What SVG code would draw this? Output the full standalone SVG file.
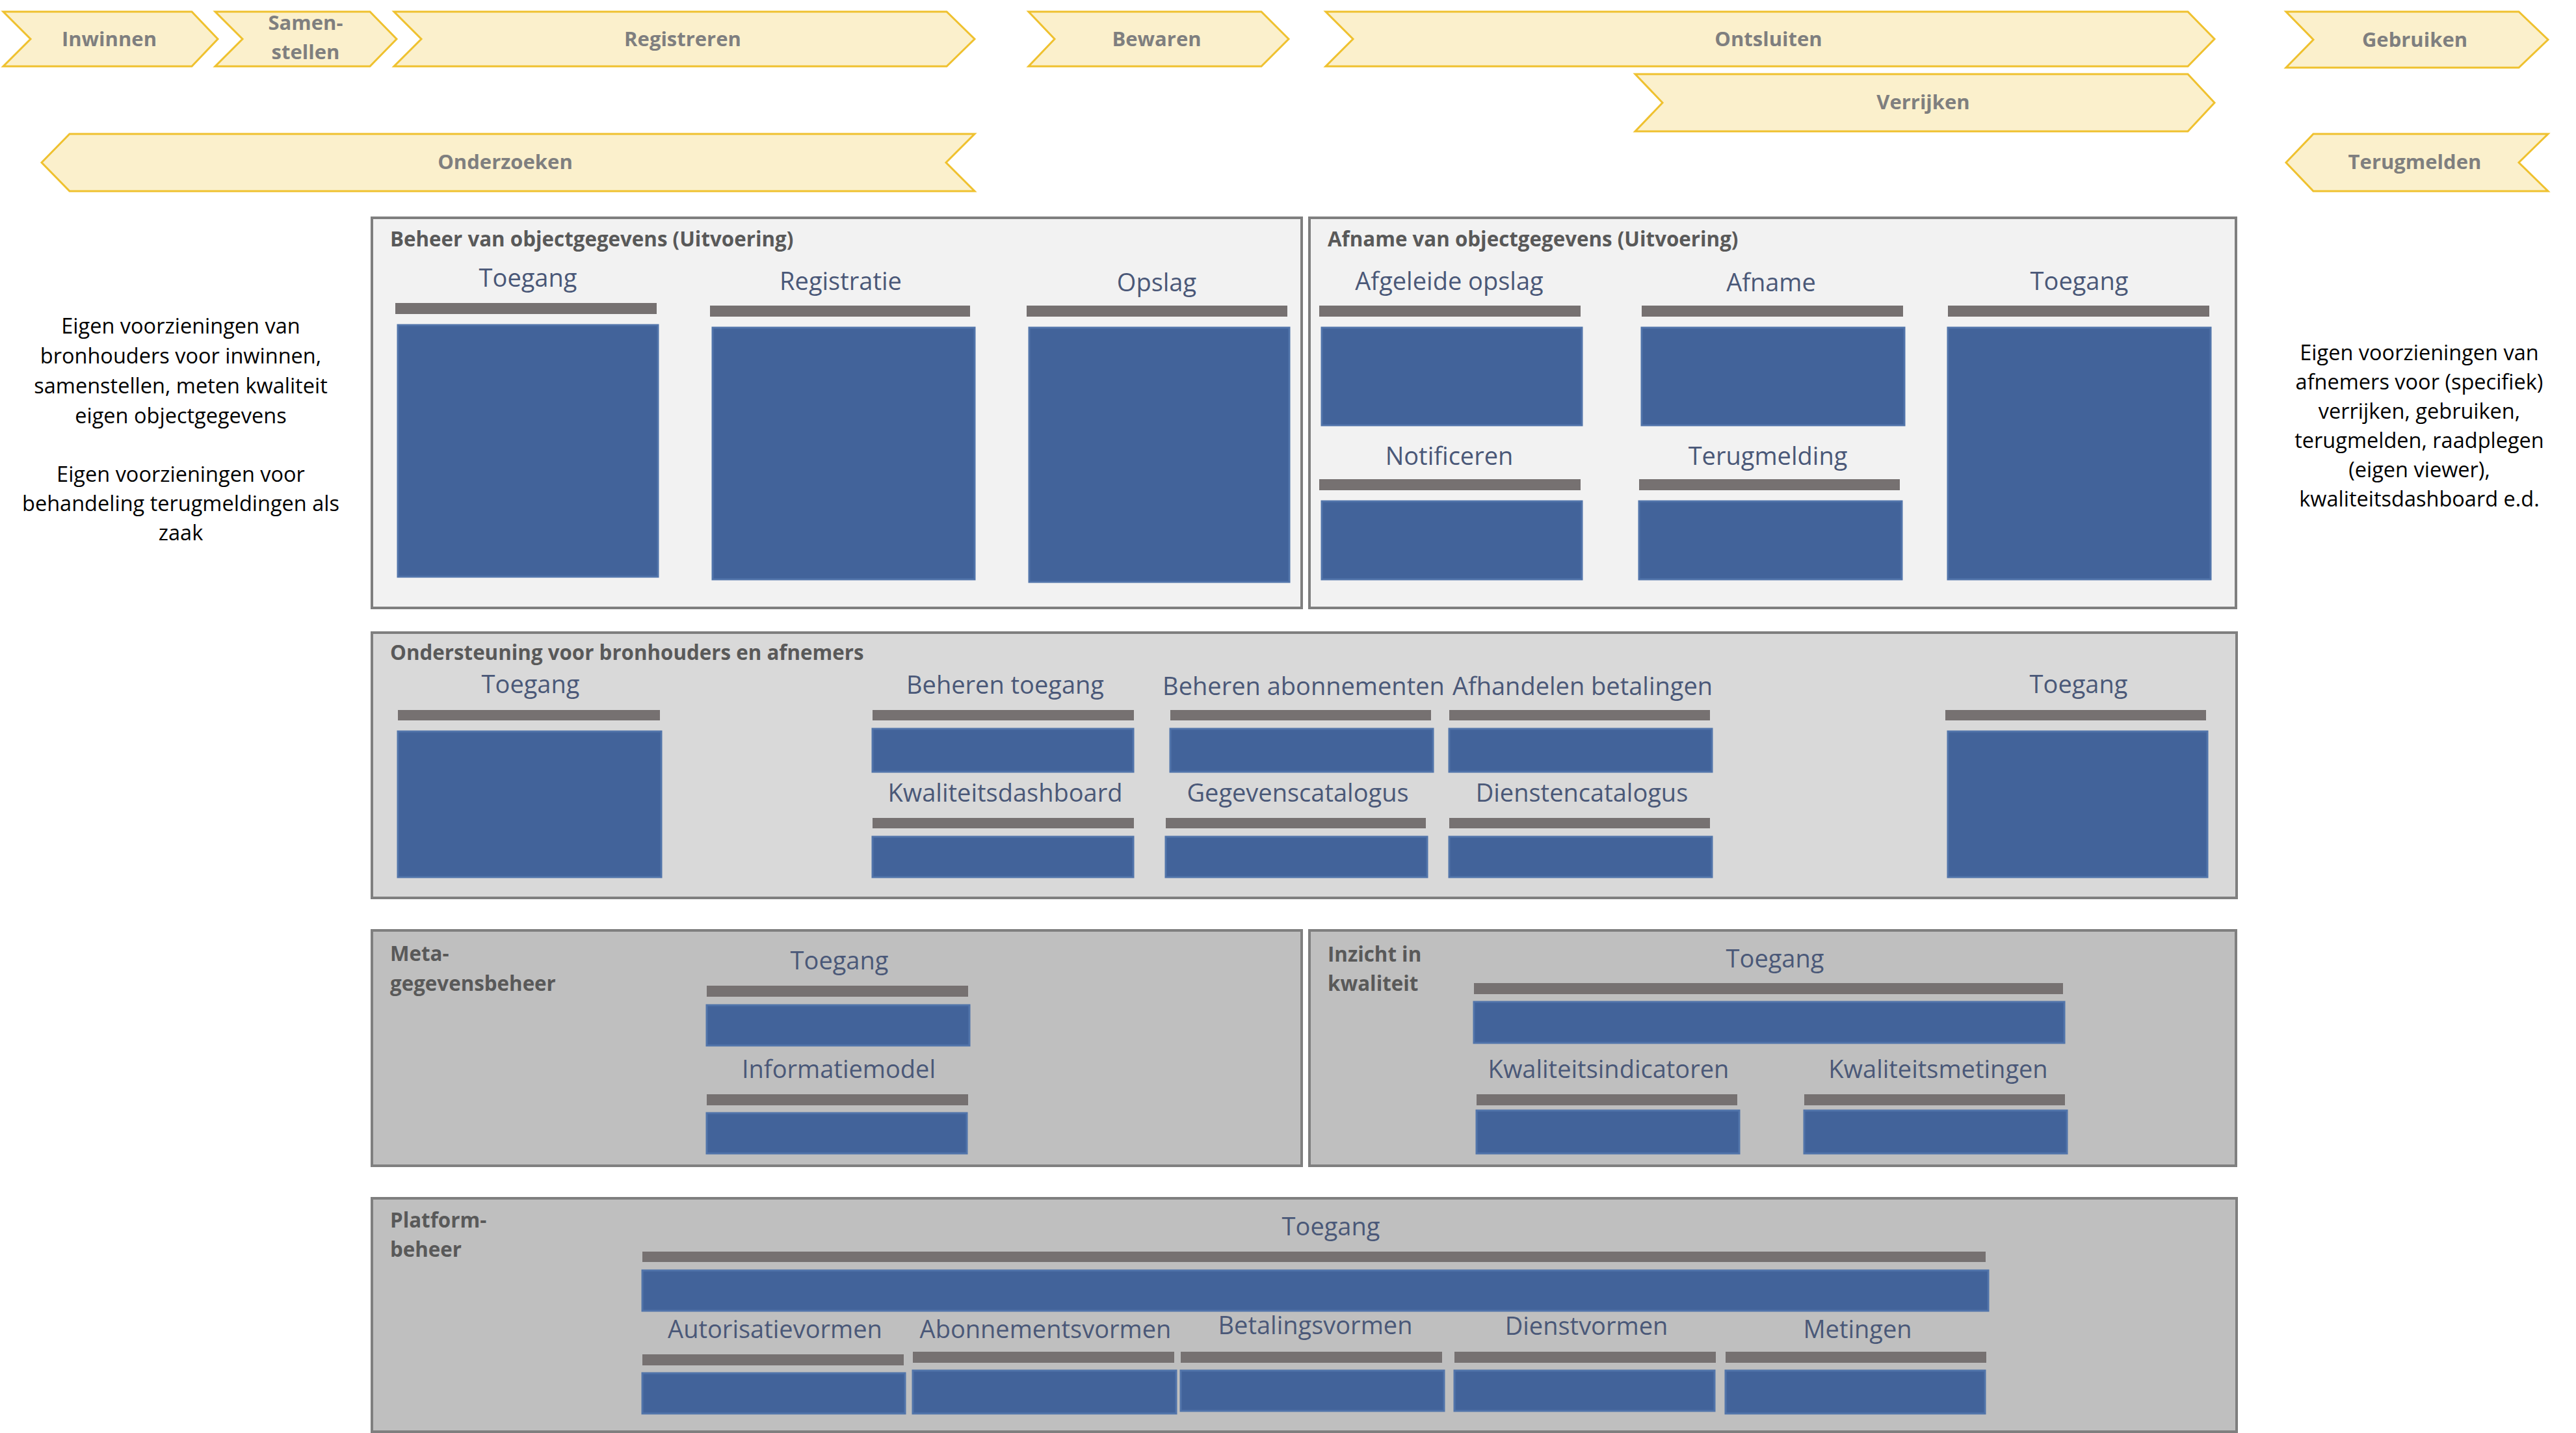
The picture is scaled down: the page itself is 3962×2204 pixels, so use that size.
<svg xmlns="http://www.w3.org/2000/svg" width="3962" height="2204" viewBox="0 0 3962 2204">
  <style>
    .chev { fill: #FBF0CC; stroke: #EFC12F; stroke-width: 3; stroke-linejoin: miter; }
    .chev-t { font-family: "Open Sans", "Liberation Sans", sans-serif; font-weight: 700; font-size: 31px; fill: #7F7F7F; text-anchor: middle; }
    .panel { stroke: #7F7F7F; stroke-width: 4; }
    .p-light { fill: #F2F2F2; }
    .p-mid { fill: #D9D9D9; }
    .p-dark { fill: #BFBFBF; }
    .ttl { font-family: "Open Sans", "Liberation Sans", sans-serif; font-weight: 700; font-size: 31.3px; fill: #595959; }
    .lbl { font-family: "Open Sans", "Liberation Sans", sans-serif; font-size: 38px; fill: #4A5878; text-anchor: middle; }
    .bar { fill: #767171; }
    .box { fill: #42639A; stroke: #5174AA; stroke-width: 3; }
    .side { font-family: "Open Sans", "Liberation Sans", sans-serif; font-size: 32.5px; fill: #000000; text-anchor: middle; }
  </style>

  <rect x="0" y="0" width="3962" height="2204" fill="#FFFFFF"/>

  <!-- process chevrons -->
  <g id="chev-inwinnen">
    <polygon class="chev" points="5,18 295,18 335,60 295,102 5,102 47,60"/>
    <text class="chev-t" x="168" y="71">Inwinnen</text>
  </g>
  <g id="chev-samenstellen">
    <polygon class="chev" points="331,18 569,18 610,60 569,102 331,102 373,60"/>
    <text class="chev-t" x="470" y="46">Samen-</text>
    <text class="chev-t" x="470" y="91">stellen</text>
  </g>
  <g id="chev-registreren">
    <polygon class="chev" points="606,18 1456,18 1499,60 1456,102 606,102 648,60"/>
    <text class="chev-t" x="1050" y="71">Registreren</text>
  </g>
  <g id="chev-bewaren">
    <polygon class="chev" points="1582,18 1940,18 1982,60 1940,102 1582,102 1622,60"/>
    <text class="chev-t" x="1779" y="71">Bewaren</text>
  </g>
  <g id="chev-ontsluiten">
    <polygon class="chev" points="2039,18 3365,18 3406,60 3365,102 2039,102 2081,60"/>
    <text class="chev-t" x="2720" y="71">Ontsluiten</text>
  </g>
  <g id="chev-gebruiken">
    <polygon class="chev" points="3516,18 3874,18 3919,61 3874,104 3516,104 3558,61"/>
    <text class="chev-t" x="3714" y="72">Gebruiken</text>
  </g>
  <g id="chev-verrijken">
    <polygon class="chev" points="2515,114 3365,114 3406,158 3365,202 2515,202 2557,158"/>
    <text class="chev-t" x="2958" y="168">Verrijken</text>
  </g>
  <g id="chev-onderzoeken">
    <polygon class="chev" points="107,206 1499,206 1455,250 1499,294 107,294 64,250"/>
    <text class="chev-t" x="777" y="260">Onderzoeken</text>
  </g>
  <g id="chev-terugmelden">
    <polygon class="chev" points="3558,206 3919,206 3874,250 3919,294 3558,294 3516,250"/>
    <text class="chev-t" x="3714" y="260">Terugmelden</text>
  </g>

  <!-- side notes -->
  <g id="note-bronhouders">
    <text class="side" x="278" y="513">Eigen voorzieningen van</text>
    <text class="side" x="278" y="559">bronhouders voor inwinnen,</text>
    <text class="side" x="278" y="605">samenstellen, meten kwaliteit</text>
    <text class="side" x="278" y="651">eigen objectgegevens</text>
    <text class="side" x="278" y="741">Eigen voorzieningen voor</text>
    <text class="side" x="278" y="786">behandeling terugmeldingen als</text>
    <text class="side" x="278" y="831">zaak</text>
  </g>
  <g id="note-afnemers">
    <text class="side" x="3721" y="554">Eigen voorzieningen van</text>
    <text class="side" x="3721" y="599">afnemers voor (specifiek)</text>
    <text class="side" x="3721" y="644">verrijken, gebruiken,</text>
    <text class="side" x="3721" y="689">terugmelden, raadplegen</text>
    <text class="side" x="3721" y="734">(eigen viewer),</text>
    <text class="side" x="3721" y="779">kwaliteitsdashboard e.d.</text>
  </g>

  <!-- Beheer van objectgegevens -->
  <g id="panel-beheer">
    <rect class="panel p-light" x="572" y="335" width="1430" height="600"/>
    <text class="ttl" x="600" y="379">Beheer van objectgegevens (Uitvoering)</text>
    <g id="beheer-toegang">
      <text class="lbl" x="812" y="441">Toegang</text>
      <rect class="bar" x="608" y="466" width="402" height="17"/>
      <rect class="box" x="612" y="500" width="400" height="387"/>
    </g>
    <g id="beheer-registratie">
      <text class="lbl" x="1293" y="446">Registratie</text>
      <rect class="bar" x="1092" y="470" width="400" height="17"/>
      <rect class="box" x="1096" y="504" width="403" height="387"/>
    </g>
    <g id="beheer-opslag">
      <text class="lbl" x="1779" y="448">Opslag</text>
      <rect class="bar" x="1579" y="470" width="401" height="17"/>
      <rect class="box" x="1583" y="504" width="400" height="391"/>
    </g>
  </g>

  <!-- Afname van objectgegevens -->
  <g id="panel-afname">
    <rect class="panel p-light" x="2014" y="335" width="1425" height="600"/>
    <text class="ttl" x="2042" y="379">Afname van objectgegevens (Uitvoering)</text>
    <g id="afname-afgeleide-opslag">
      <text class="lbl" x="2229" y="446">Afgeleide opslag</text>
      <rect class="bar" x="2029" y="470" width="402" height="17"/>
      <rect class="box" x="2033" y="504" width="400" height="150"/>
    </g>
    <g id="afname-afname">
      <text class="lbl" x="2724" y="448">Afname</text>
      <rect class="bar" x="2525" y="470" width="402" height="17"/>
      <rect class="box" x="2525" y="504" width="404" height="150"/>
    </g>
    <g id="afname-toegang">
      <text class="lbl" x="3198" y="446">Toegang</text>
      <rect class="bar" x="2996" y="470" width="402" height="17"/>
      <rect class="box" x="2996" y="504" width="404" height="387"/>
    </g>
    <g id="afname-notificeren">
      <text class="lbl" x="2229" y="715">Notificeren</text>
      <rect class="bar" x="2029" y="737" width="402" height="17"/>
      <rect class="box" x="2033" y="771" width="400" height="120"/>
    </g>
    <g id="afname-terugmelding">
      <text class="lbl" x="2719" y="715">Terugmelding</text>
      <rect class="bar" x="2521" y="737" width="401" height="17"/>
      <rect class="box" x="2521" y="771" width="404" height="120"/>
    </g>
  </g>

  <!-- Ondersteuning voor bronhouders en afnemers -->
  <g id="panel-ondersteuning">
    <rect class="panel p-mid" x="572" y="973" width="2868" height="408"/>
    <text class="ttl" x="600" y="1015">Ondersteuning voor bronhouders en afnemers</text>
    <g id="ond-toegang-links">
      <text class="lbl" x="816" y="1066">Toegang</text>
      <rect class="bar" x="612" y="1092" width="403" height="16"/>
      <rect class="box" x="612" y="1125" width="405" height="224"/>
    </g>
    <g id="ond-beheren-toegang">
      <text class="lbl" x="1546" y="1067">Beheren toegang</text>
      <rect class="bar" x="1342" y="1092" width="402" height="16"/>
      <rect class="box" x="1342" y="1121" width="401" height="66"/>
    </g>
    <g id="ond-beheren-abonnementen">
      <text class="lbl" x="2005" y="1069">Beheren abonnementen</text>
      <rect class="bar" x="1800" y="1092" width="401" height="16"/>
      <rect class="box" x="1800" y="1121" width="404" height="66"/>
    </g>
    <g id="ond-afhandelen-betalingen">
      <text class="lbl" x="2434" y="1069">Afhandelen betalingen</text>
      <rect class="bar" x="2229" y="1092" width="401" height="16"/>
      <rect class="box" x="2229" y="1121" width="404" height="66"/>
    </g>
    <g id="ond-kwaliteitsdashboard">
      <text class="lbl" x="1546" y="1233">Kwaliteitsdashboard</text>
      <rect class="bar" x="1342" y="1258" width="402" height="16"/>
      <rect class="box" x="1342" y="1287" width="401" height="62"/>
    </g>
    <g id="ond-gegevenscatalogus">
      <text class="lbl" x="1996" y="1233">Gegevenscatalogus</text>
      <rect class="bar" x="1793" y="1258" width="400" height="16"/>
      <rect class="box" x="1793" y="1287" width="402" height="62"/>
    </g>
    <g id="ond-dienstencatalogus">
      <text class="lbl" x="2433" y="1233">Dienstencatalogus</text>
      <rect class="bar" x="2229" y="1258" width="401" height="16"/>
      <rect class="box" x="2229" y="1287" width="404" height="62"/>
    </g>
    <g id="ond-toegang-rechts">
      <text class="lbl" x="3197" y="1066">Toegang</text>
      <rect class="bar" x="2992" y="1092" width="401" height="16"/>
      <rect class="box" x="2996" y="1125" width="399" height="224"/>
    </g>
  </g>

  <!-- Metagegevensbeheer -->
  <g id="panel-metagegevens">
    <rect class="panel p-dark" x="572" y="1431" width="1430" height="362"/>
    <text class="ttl" x="600" y="1478">Meta-</text>
    <text class="ttl" x="600" y="1524">gegevensbeheer</text>
    <g id="meta-toegang">
      <text class="lbl" x="1291" y="1491">Toegang</text>
      <rect class="bar" x="1087" y="1516" width="402" height="17"/>
      <rect class="box" x="1087" y="1546" width="404" height="62"/>
    </g>
    <g id="meta-informatiemodel">
      <text class="lbl" x="1290" y="1658">Informatiemodel</text>
      <rect class="bar" x="1087" y="1683" width="402" height="17"/>
      <rect class="box" x="1087" y="1712" width="400" height="62"/>
    </g>
  </g>

  <!-- Inzicht in kwaliteit -->
  <g id="panel-kwaliteit">
    <rect class="panel p-dark" x="2014" y="1431" width="1425" height="362"/>
    <text class="ttl" x="2042" y="1479">Inzicht in</text>
    <text class="ttl" x="2042" y="1524">kwaliteit</text>
    <g id="kwal-toegang">
      <text class="lbl" x="2730" y="1488">Toegang</text>
      <rect class="bar" x="2267" y="1512" width="906" height="17"/>
      <rect class="box" x="2267" y="1541" width="908" height="63"/>
    </g>
    <g id="kwal-indicatoren">
      <text class="lbl" x="2474" y="1658">Kwaliteitsindicatoren</text>
      <rect class="bar" x="2271" y="1683" width="401" height="17"/>
      <rect class="box" x="2271" y="1708" width="404" height="66"/>
    </g>
    <g id="kwal-metingen">
      <text class="lbl" x="2981" y="1658">Kwaliteitsmetingen</text>
      <rect class="bar" x="2775" y="1683" width="401" height="17"/>
      <rect class="box" x="2775" y="1708" width="404" height="66"/>
    </g>
  </g>

  <!-- Platformbeheer -->
  <g id="panel-platform">
    <rect class="panel p-dark" x="572" y="1843" width="2868" height="359"/>
    <text class="ttl" x="600" y="1888">Platform-</text>
    <text class="ttl" x="600" y="1933">beheer</text>
    <g id="plat-toegang">
      <text class="lbl" x="2047" y="1900">Toegang</text>
      <rect class="bar" x="988" y="1925" width="2066" height="16"/>
      <rect class="box" x="988" y="1954" width="2070" height="62"/>
    </g>
    <g id="plat-autorisatievormen">
      <text class="lbl" x="1192" y="2058">Autorisatievormen</text>
      <rect class="bar" x="988" y="2083" width="402" height="17"/>
      <rect class="box" x="988" y="2112" width="404" height="62"/>
    </g>
    <g id="plat-abonnementsvormen">
      <text class="lbl" x="1608" y="2058">Abonnementsvormen</text>
      <rect class="bar" x="1404" y="2079" width="402" height="17"/>
      <rect class="box" x="1404" y="2108" width="405" height="66"/>
    </g>
    <g id="plat-betalingsvormen">
      <text class="lbl" x="2023" y="2052">Betalingsvormen</text>
      <rect class="bar" x="1816" y="2079" width="402" height="17"/>
      <rect class="box" x="1816" y="2108" width="405" height="62"/>
    </g>
    <g id="plat-dienstvormen">
      <text class="lbl" x="2440" y="2053">Dienstvormen</text>
      <rect class="bar" x="2237" y="2079" width="402" height="17"/>
      <rect class="box" x="2237" y="2108" width="400" height="62"/>
    </g>
    <g id="plat-metingen">
      <text class="lbl" x="2857" y="2058">Metingen</text>
      <rect class="bar" x="2654" y="2079" width="401" height="17"/>
      <rect class="box" x="2654" y="2108" width="399" height="66"/>
    </g>
  </g>
</svg>
